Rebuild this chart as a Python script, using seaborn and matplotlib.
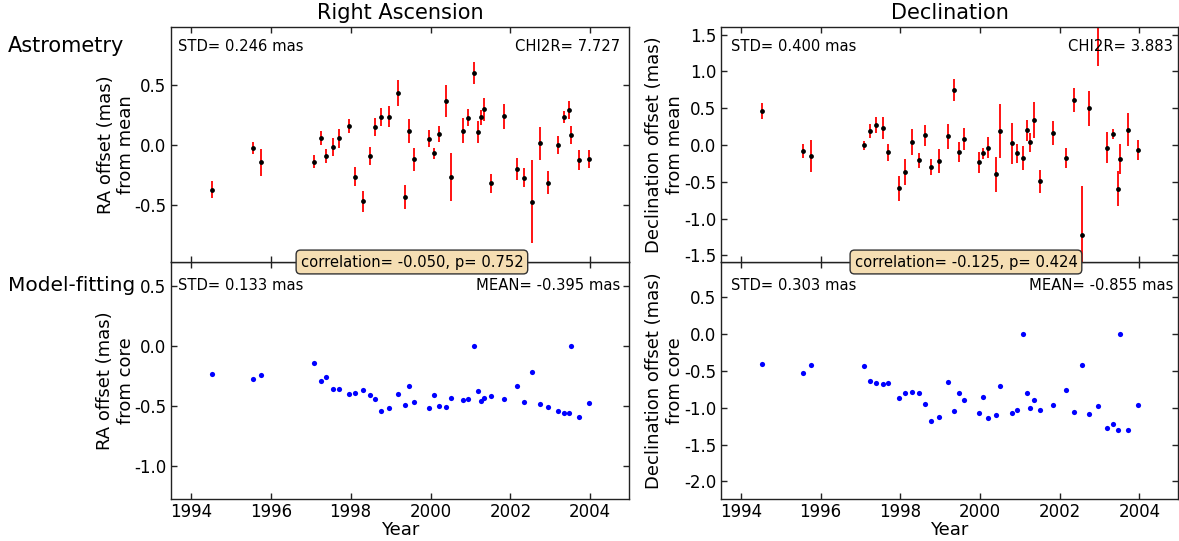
import numpy as np
import pandas as pd
import matplotlib
matplotlib.use("Agg")
import matplotlib.pyplot as plt
import seaborn as sns

# Observing epochs (decimal year)
epoch = [1994.52, 1995.56, 1995.75, 1997.08, 1997.25, 1997.38, 1997.56, 1997.70,
         1997.97, 1998.11, 1998.30, 1998.48, 1998.61, 1998.76, 1998.97, 1999.19,
         1999.36, 1999.47, 1999.59, 1999.97, 2000.08, 2000.20, 2000.39, 2000.50,
         2000.81, 2000.93, 2001.08, 2001.18, 2001.26, 2001.35, 2001.51, 2001.83,
         2002.17, 2002.35, 2002.55, 2002.73, 2002.95, 2003.18, 2003.34, 2003.47,
         2003.52, 2003.71, 2003.96]

# Astrometric offsets from the mean position (mas) and their errors
ra_mean = [-0.372, -0.028, -0.144, -0.139, 0.061, -0.092, -0.017, 0.056,
           0.161, -0.264, -0.469, -0.089, 0.153, 0.233, 0.236, 0.431,
           -0.433, 0.117, -0.119, 0.053, -0.069, 0.094, 0.367, -0.267,
           0.119, 0.228, 0.600, 0.106, 0.231, 0.297, -0.317, 0.239,
           -0.200, -0.272, -0.472, 0.014, -0.314, 0.000, 0.233, 0.289,
           0.083, -0.125, -0.117]
ra_err = [0.072, 0.050, 0.114, 0.054, 0.057, 0.060, 0.078, 0.079,
          0.058, 0.079, 0.086, 0.074, 0.075, 0.072, 0.090, 0.110,
          0.097, 0.100, 0.097, 0.068, 0.044, 0.068, 0.130, 0.200,
          0.105, 0.070, 0.094, 0.093, 0.061, 0.094, 0.079, 0.103,
          0.094, 0.082, 0.347, 0.136, 0.094, 0.076, 0.054, 0.074,
          0.071, 0.082, 0.075]
dec_mean = [0.463, -0.082, -0.150, -0.005, 0.190, 0.268, 0.232, -0.100,
            -0.590, -0.368, 0.041, -0.209, 0.132, -0.295, -0.218, 0.118,
            0.749, -0.095, 0.077, -0.236, -0.114, -0.036, -0.400, 0.195,
            0.023, -0.109, -0.172, 0.200, 0.036, 0.340, -0.495, 0.163,
            -0.177, 0.613, -1.217, 0.500, 1.720, -0.036, 0.150, -0.595,
            -0.191, 0.209, -0.068]
dec_err = [0.111, 0.097, 0.220, 0.064, 0.100, 0.107, 0.143, 0.111,
           0.172, 0.177, 0.177, 0.107, 0.143, 0.109, 0.168, 0.170,
           0.150, 0.138, 0.150, 0.145, 0.077, 0.145, 0.240, 0.365,
           0.277, 0.129, 0.163, 0.145, 0.127, 0.240, 0.159, 0.168,
           0.141, 0.168, 0.663, 0.236, 0.650, 0.213, 0.064, 0.240,
           0.206, 0.220, 0.136]

# Model-fitting offsets from the core (mas)
ra_core = [-0.235, -0.274, -0.241, -0.138, -0.290, -0.257, -0.360, -0.360,
           -0.401, -0.387, -0.368, -0.407, -0.437, -0.540, -0.517, -0.398,
           -0.492, -0.335, -0.462, -0.517, -0.410, -0.498, -0.506, -0.434,
           -0.445, -0.443, 0.000, -0.371, -0.456, -0.429, -0.415, -0.443,
           -0.335, -0.465, -0.219, -0.481, -0.503, -0.540, -0.560, -0.560,
           0.000, -0.590, -0.473]
dec_core = [-0.404, -0.535, -0.426, -0.435, -0.644, -0.662, -0.680, -0.662,
            -0.866, -0.794, -0.785, -0.803, -0.948, -1.180, -1.124, -0.653,
            -1.048, -0.807, -0.889, -1.079, -0.861, -1.138, -1.093, -0.707,
            -1.075, -1.034, 0.000, -0.794, -1.000, -0.898, -1.025, -0.961,
            -0.766, -1.052, -0.422, -1.083, -0.984, -1.270, -1.220, -1.297,
            0.000, -1.300, -0.957]

xticks = [1994, 1996, 1998, 2000, 2002, 2004]

df = pd.DataFrame({"epoch": epoch, "ra_mean": ra_mean, "ra_err": ra_err,
                   "dec_mean": dec_mean, "dec_err": dec_err,
                   "ra_core": ra_core, "dec_core": dec_core})

sns.set_style("ticks", {"xtick.direction": "in", "ytick.direction": "in",
                        "axes.edgecolor": "#222222"})
plt.rcParams["font.family"] = ["DejaVu Sans"]
plt.rcParams["text.color"] = "black"
plt.rcParams["axes.labelcolor"] = "black"
plt.rcParams["xtick.color"] = "black"
plt.rcParams["ytick.color"] = "black"
plt.rcParams["axes.linewidth"] = 1.0
plt.rcParams["xtick.labelsize"] = 12
plt.rcParams["ytick.labelsize"] = 12

fig = plt.figure(figsize=(11.79, 5.41), dpi=100)

W, H = 1179.0, 541.0
def box(x0, y0, x1, y1):
    return [x0 / W, 1 - y1 / H, (x1 - x0) / W, (y1 - y0) / H]

# lower panels first so the correlation boxes of the upper panels sit on top
ax_rc = fig.add_axes(box(171, 262, 629, 499))
ax_dc = fig.add_axes(box(721, 262, 1178, 499))
ax_rm = fig.add_axes(box(171, 27, 629, 262))
ax_dm = fig.add_axes(box(721, 27, 1178, 262))

for ax in (ax_rm, ax_dm, ax_rc, ax_dc):
    ax.set_xlim(1993.5, 2004.97)
    ax.set_xticks(xticks)
    ax.tick_params(which="both", direction="in", top=True, right=True,
                   length=4, width=1, color="#222222")
    ax.tick_params(axis="x", pad=3)

def astrometry(ax, col, err):
    ax.errorbar(df["epoch"], df[col], yerr=df[err], fmt="none",
                ecolor="red", elinewidth=1.3, capsize=0, zorder=2)
    sns.scatterplot(data=df, x="epoch", y=col, ax=ax, color="black",
                    s=12, linewidth=0, zorder=3, legend=False)
    ax.set_xlabel("")
    ax.tick_params(labelbottom=False)

def modelfit(ax, col):
    sns.scatterplot(data=df, x="epoch", y=col, ax=ax, color="blue",
                    s=14, linewidth=0, zorder=3, legend=False)
    ax.set_xlabel("Year", fontsize=13, labelpad=0)

astrometry(ax_rm, "ra_mean", "ra_err")
astrometry(ax_dm, "dec_mean", "dec_err")
modelfit(ax_rc, "ra_core")
modelfit(ax_dc, "dec_core")

ax_rm.set_ylim(-0.975, 0.983)
ax_rm.set_yticks([-0.5, 0.0, 0.5])
ax_dm.set_ylim(-1.59, 1.605)
ax_dm.set_yticks([-1.5, -1.0, -0.5, 0.0, 0.5, 1.0, 1.5])
ax_rc.set_ylim(-1.27, 0.697)
ax_rc.set_yticks([-1.0, -0.5, 0.0, 0.5])
ax_dc.set_ylim(-2.24, 0.978)
ax_dc.set_yticks([-2.0, -1.5, -1.0, -0.5, 0.0, 0.5])

for ax in (ax_rm, ax_dm, ax_rc, ax_dc):
    ax.yaxis.set_major_formatter(matplotlib.ticker.FormatStrFormatter("%.1f"))

ax_rm.set_ylabel("RA offset (mas)\nfrom mean", fontsize=13, multialignment="center", labelpad=-1)
ax_dm.set_ylabel("Declination offset (mas)\nfrom mean", fontsize=13, multialignment="center", labelpad=0)
ax_rc.set_ylabel("RA offset (mas)\nfrom core", fontsize=13, multialignment="center", labelpad=-1)
ax_dc.set_ylabel("Declination offset (mas)\nfrom core", fontsize=13, multialignment="center", labelpad=0)

ax_rm.set_title("Right Ascension", fontsize=15, pad=6)
ax_dm.set_title("Declination", fontsize=15, pad=6)

fs = 10.6
ax_rm.text(0.016, 0.898, "STD= 0.246 mas", transform=ax_rm.transAxes, fontsize=fs, va="baseline")
ax_rm.text(0.980, 0.898, "CHI2R= 7.727", transform=ax_rm.transAxes, fontsize=fs, va="baseline", ha="right")
ax_dm.text(0.022, 0.898, "STD= 0.400 mas", transform=ax_dm.transAxes, fontsize=fs, va="baseline")
ax_dm.text(0.988, 0.898, "CHI2R= 3.883", transform=ax_dm.transAxes, fontsize=fs, va="baseline", ha="right")
ax_rc.text(0.016, 0.882, "STD= 0.133 mas", transform=ax_rc.transAxes, fontsize=fs, va="baseline")
ax_rc.text(0.980, 0.882, "MEAN= -0.395 mas", transform=ax_rc.transAxes, fontsize=fs, va="baseline", ha="right")
ax_dc.text(0.022, 0.882, "STD= 0.303 mas", transform=ax_dc.transAxes, fontsize=fs, va="baseline")
ax_dc.text(0.990, 0.882, "MEAN= -0.855 mas", transform=ax_dc.transAxes, fontsize=fs, va="baseline", ha="right")

bbox = dict(boxstyle="round,pad=0.3", facecolor="#f5deb3", edgecolor="#333333", linewidth=1)
ax_rm.text(0.526, 0.0, "correlation= -0.050, p= 0.752", transform=ax_rm.transAxes,
           fontsize=fs, ha="center", va="center", bbox=bbox, zorder=10, clip_on=False)
ax_dm.text(0.536, 0.0, "correlation= -0.125, p= 0.424", transform=ax_dm.transAxes,
           fontsize=fs, ha="center", va="center", bbox=bbox, zorder=10, clip_on=False)

fig.text(8 / W, 1 - 52 / H, "Astrometry", fontsize=15, va="baseline")
fig.text(8 / W, 1 - 291 / H, "Model-fitting", fontsize=14.5, va="baseline")

fig.savefig("out.png", dpi=100)
